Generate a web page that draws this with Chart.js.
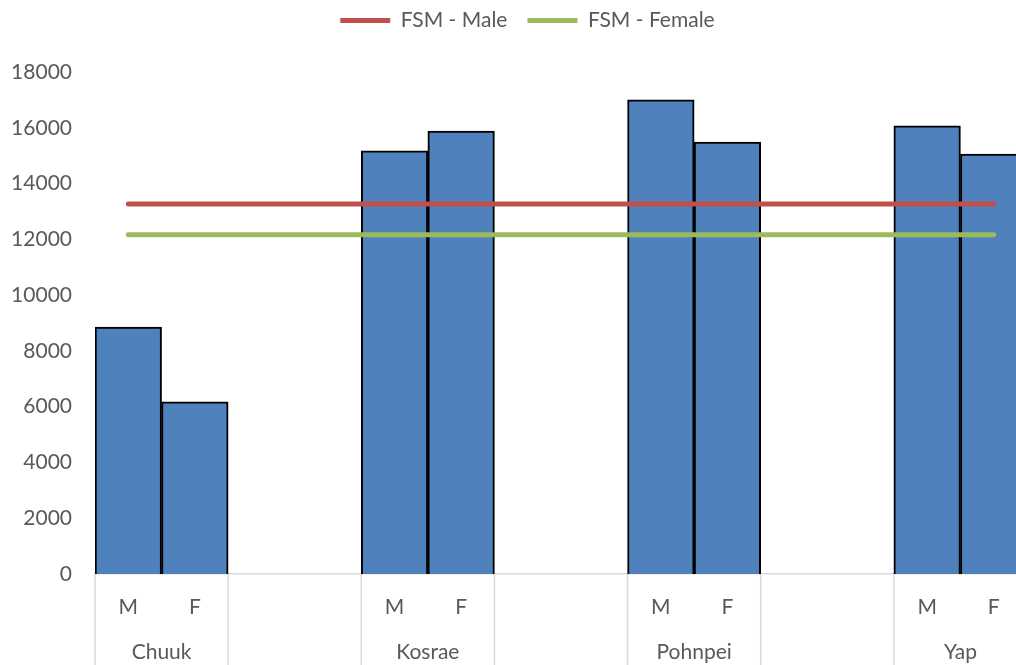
<!DOCTYPE html>
<html>
<head>
<meta charset="utf-8">
<script src="https://cdn.jsdelivr.net/npm/chart.js@4/dist/chart.umd.min.js"></script>
<style>
  html, body { margin: 0; padding: 0; background: #fff; overflow: hidden; }
  #wrap { width: 1016px; height: 665px; overflow: hidden; position: relative; }
  canvas { display: block; }
</style>
</head>
<body>
<div id="wrap"><canvas id="chart" width="1054" height="665"></canvas></div>
<script>
// States and the sex sub-categories shown under each one
const states = ['Chuuk', 'Kosrae', 'Pohnpei', 'Yap'];
const sexes = ['M', 'F'];

// Values per state
const maleValues = [8850, 15170, 17000, 16070];
const femaleValues = [6170, 15880, 15490, 15060];

// National (FSM) reference lines, one point per category slot
const fsmMale = [13270, 13270, 13270, 13270, 13270, 13270, 13270, 13270, 13270, 13270, 13270, 13270, 13270, 13270];
const fsmFemale = [12160, 12160, 12160, 12160, 12160, 12160, 12160, 12160, 12160, 12160, 12160, 12160, 12160, 12160];

// Value axis ticks
const yTicks = [0, 2000, 4000, 6000, 8000, 10000, 12000, 14000, 16000, 18000];

// Category slots: M, F, then two empty spacer slots between states
const slotLabels = [];
const barValues = [];
states.forEach((s, i) => {
  slotLabels.push(sexes[0], sexes[1]);
  barValues.push(maleValues[i], femaleValues[i]);
  if (i < states.length - 1) {
    slotLabels.push('', '');
    barValues.push(null, null);
  }
});

const FONT = 'Lato, "Open Sans", sans-serif';
const FONT_SIZE = 21;
const TEXT = '#595959';
const RULE = '#d9d9d9';

// Legend: extra room below it, and a small shift to the right
const legendPlacement = {
  id: 'legendPlacement',
  beforeLayout(chart) {
    const lg = chart.legend;
    if (lg && !lg._gapWrapped) {
      const fit = lg.fit;
      lg.fit = function () { fit.call(this); this.height += 31; };
      lg._gapWrapped = true;
    }
  },
  afterLayout(chart) {
    const lg = chart.legend;
    if (lg) { lg.left += 14; lg.right += 14; }
  }
};

// Two-level category axis: state names and divider rules under the axis
const stateAxis = {
  id: 'stateAxis',
  afterDraw(chart) {
    const { ctx, chartArea, scales: { x } } = chart;
    const half = (x.getPixelForValue(1) - x.getPixelForValue(0)) / 2;
    const bottom = chart.height;
    ctx.save();
    ctx.strokeStyle = RULE;
    ctx.lineWidth = 1.5;
    states.forEach((s, i) => {
      const left = x.getPixelForValue(i * 4) - half;
      const right = x.getPixelForValue(i * 4 + 1) + half;
      [left, right].forEach(px => {
        ctx.beginPath();
        ctx.moveTo(px, chartArea.bottom);
        ctx.lineTo(px, bottom);
        ctx.stroke();
      });
      ctx.fillStyle = TEXT;
      ctx.font = FONT_SIZE + 'px ' + FONT;
      ctx.textAlign = 'center';
      ctx.textBaseline = 'middle';
      ctx.fillText(s, (left + right) / 2, chartArea.bottom + 78);
    });
    ctx.restore();
  }
};

new Chart(document.getElementById('chart'), {
  data: {
    labels: slotLabels,
    datasets: [
      {
        type: 'line',
        label: 'FSM - Male',
        data: fsmMale,
        borderColor: '#C0504D',
        backgroundColor: '#C0504D',
        borderWidth: 5,
        borderCapStyle: 'round',
        pointRadius: 0,
        order: 1
      },
      {
        type: 'line',
        label: 'FSM - Female',
        data: fsmFemale,
        borderColor: '#9BBB59',
        backgroundColor: '#9BBB59',
        borderWidth: 5,
        borderCapStyle: 'round',
        pointRadius: 0,
        order: 1
      },
      {
        type: 'bar',
        label: 'Value',
        data: barValues,
        backgroundColor: '#4F81BD',
        borderColor: '#000000',
        borderWidth: 2,
        barPercentage: 1,
        categoryPercentage: 1,
        order: 2
      }
    ]
  },
  options: {
    responsive: false,
    animation: false,
    layout: { padding: { left: 0, right: 27, top: -10, bottom: 0 } },
    plugins: {
      legend: {
        position: 'top',
        labels: {
          filter: item => item.text !== 'Value',
          usePointStyle: true,
          pointStyle: 'line',
          pointStyleWidth: 50,
          padding: 20,
          color: TEXT,
          font: { family: FONT, size: FONT_SIZE }
        }
      },
      tooltip: { enabled: false }
    },
    scales: {
      x: {
        type: 'category',
        offset: true,
        grid: { display: false },
        border: { display: true, color: RULE, width: 1.5 },
        ticks: {
          color: TEXT,
          font: { family: FONT, size: FONT_SIZE },
          padding: 13,
          maxRotation: 0,
          autoSkip: false
        },
        afterFit(scale) { scale.height = 91; }
      },
      y: {
        min: 0,
        max: 18000,
        grid: { display: false, drawTicks: false },
        border: { display: false },
        afterBuildTicks(scale) { scale.ticks = yTicks.map(v => ({ value: v })); },
        ticks: {
          color: TEXT,
          font: { family: FONT, size: FONT_SIZE },
          padding: 23,
          callback: v => String(v)
        },
        afterFit(scale) { scale.width = 95; }
      }
    }
  },
  plugins: [legendPlacement, stateAxis]
});
</script>
</body>
</html>
